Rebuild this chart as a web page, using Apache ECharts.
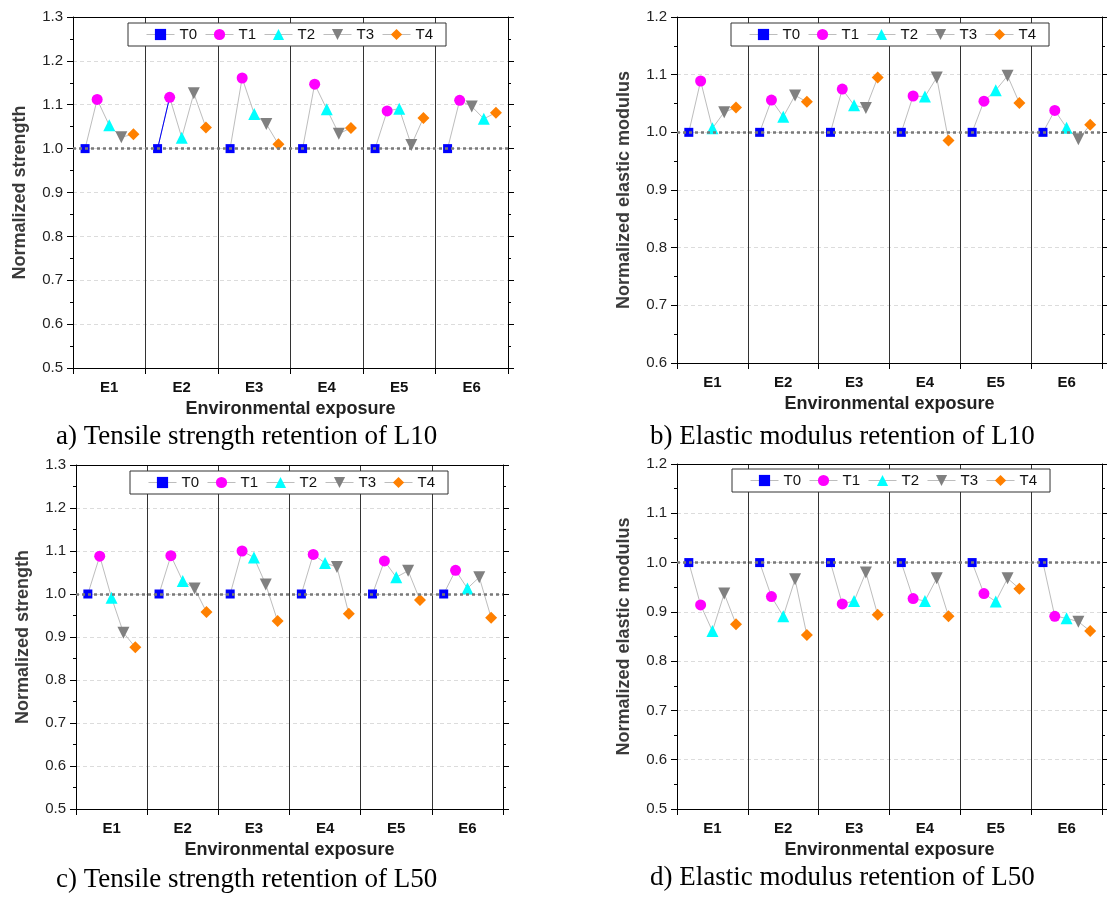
<!DOCTYPE html>
<html>
<head>
<meta charset="utf-8">
<script src="https://cdn.jsdelivr.net/npm/echarts@6/dist/echarts.min.js"></script>
<style>
  html, body { margin: 0; background: #fff; }
  #chart { width: 1107px; height: 897px; }
</style>
</head>
<body>
<div id="chart"></div>
<script>
// categories
const groups = ['E1', 'E2', 'E3', 'E4', 'E5', 'E6'];
const treatments = ['T0', 'T1', 'T2', 'T3', 'T4'];

// values, rows T0..T4, columns E1..E6
const strengthL10 = [
  [1, 1, 1, 1, 1, 1],
  [1.112, 1.117, 1.161, 1.147, 1.086, 1.110],
  [1.053, 1.025, 1.079, 1.090, 1.091, 1.068],
  [1.026, 1.126, 1.056, 1.034, 1.008, 1.096],
  [1.033, 1.048, 1.010, 1.047, 1.070, 1.082]
];
const modulusL10 = [
  [1, 1, 1, 1, 1, 1],
  [1.089, 1.056, 1.075, 1.063, 1.054, 1.038],
  [1.007, 1.027, 1.047, 1.062, 1.073, 1.008],
  [1.035, 1.064, 1.042, 1.095, 1.098, 0.988],
  [1.043, 1.053, 1.095, 0.986, 1.051, 1.013]
];
const strengthL50 = [
  [1, 1, 1, 1, 1, 1],
  [1.088, 1.089, 1.100, 1.092, 1.077, 1.055],
  [0.991, 1.030, 1.085, 1.072, 1.039, 1.013],
  [0.910, 1.013, 1.022, 1.063, 1.054, 1.039],
  [0.876, 0.958, 0.937, 0.954, 0.986, 0.945]
];
const modulusL50 = [
  [1, 1, 1, 1, 1, 1],
  [0.914, 0.931, 0.916, 0.927, 0.937, 0.891],
  [0.861, 0.891, 0.922, 0.922, 0.921, 0.887],
  [0.937, 0.966, 0.980, 0.968, 0.968, 0.880],
  [0.875, 0.853, 0.894, 0.891, 0.947, 0.861]
];

// slot of T0..T4 inside each exposure group (in a) the E6 T2/T3 points are swapped)
const slotsNormal = [1, 2, 3, 4, 5];
const slotsStrengthL10 = [slotsNormal, slotsNormal, slotsNormal, slotsNormal, slotsNormal, [1, 2, 4, 3, 5]];

const FONT = '"Liberation Sans", Arial, sans-serif';
const colors = ['#0000ff', '#ff00ff', '#00ffff', '#808080', '#ff8000'];
const symbols = ['rect', 'circle', 'triangle', 'path://M0,0 L10,0 L5,9 Z', 'diamond'];
const sizes = [9, 11, 12, 12, 12];

const panels = [
  {
    data: strengthL10, slots: slotsStrengthL10, yMin: 0.5, yMax: 1.3, yName: 'Normalized strength',
    grid: { left: 73, top: 17, width: 435, height: 351 },
    legend: { left: 128, top: 23 },
    caption: { text: 'a) Tensile strength retention of L10', x: 56, y: 423 },
    blue: { group: 1 }
  },
  {
    data: modulusL10, yMin: 0.6, yMax: 1.2, yName: 'Normalized elastic modulus',
    grid: { left: 677, top: 17, width: 425, height: 346 },
    legend: { left: 731, top: 23 },
    caption: { text: 'b) Elastic modulus retention of L10', x: 650, y: 423 }
  },
  {
    data: strengthL50, yMin: 0.5, yMax: 1.3, yName: 'Normalized strength',
    grid: { left: 76, top: 465, width: 427, height: 344 },
    legend: { left: 130, top: 471 },
    caption: { text: 'c) Tensile strength retention of L50', x: 56, y: 866 }
  },
  {
    data: modulusL50, yMin: 0.5, yMax: 1.2, yName: 'Normalized elastic modulus',
    grid: { left: 677, top: 464, width: 425, height: 345 },
    legend: { left: 732, top: 469 },
    caption: { text: 'd) Elastic modulus retention of L50', x: 650, y: 864 }
  }
];

const option = {
  animation: false,
  backgroundColor: '#fff',
  grid: [], xAxis: [], yAxis: [], legend: [], series: [], graphic: []
};

panels.forEach(function (p, i) {
  const slots = p.slots || groups.map(function () { return slotsNormal; });
  const xPos = function (gi, ti) { return gi * 6 + slots[gi][ti]; };

  option.grid.push(p.grid);

  // data axis, drawn only as the top frame
  option.xAxis.push({
    type: 'value', gridIndex: i, min: 0, max: 36, position: 'top',
    axisLine: { show: true, lineStyle: { color: '#000', width: 1 } },
    axisTick: { show: false }, axisLabel: { show: false }, splitLine: { show: false }
  });
  // exposure groups
  option.xAxis.push({
    type: 'category', gridIndex: i, data: groups, position: 'bottom', boundaryGap: true,
    axisLine: { lineStyle: { color: '#000', width: 1 } },
    axisTick: { show: true, length: 6, lineStyle: { color: '#000' } },
    splitLine: { show: true, lineStyle: { color: '#333', width: 1 } },
    axisLabel: { interval: 0, margin: 12, fontSize: 15, fontWeight: 'bold', color: '#111', fontFamily: FONT },
    name: 'Environmental exposure', nameLocation: 'middle', nameGap: 32,
    nameTextStyle: { fontSize: 18, fontWeight: 'bold', color: '#222', fontFamily: FONT }
  });

  option.yAxis.push({
    type: 'value', gridIndex: i, min: p.yMin, max: p.yMax, interval: 0.1, position: 'left',
    axisLine: { show: true, lineStyle: { color: '#000', width: 1 } },
    axisTick: { show: true, length: 6, lineStyle: { color: '#000' } },
    minorTick: { show: true, splitNumber: 2, length: 3, lineStyle: { color: '#000' } },
    splitLine: { show: true, lineStyle: { color: '#dcdcdc', type: [4, 3], width: 1 } },
    axisLabel: { margin: 10, fontSize: 15, color: '#222', fontFamily: FONT,
      formatter: function (v) { return v.toFixed(1); } },
    name: p.yName, nameLocation: 'middle', nameGap: 44,
    nameTextStyle: { fontSize: 18, fontWeight: 'bold', color: '#3a3a3a', fontFamily: FONT }
  });
  option.yAxis.push({
    type: 'value', gridIndex: i, min: p.yMin, max: p.yMax, interval: 0.1, position: 'right',
    axisLine: { show: true, lineStyle: { color: '#000', width: 1 } },
    axisTick: { show: true, length: 6, lineStyle: { color: '#000' } },
    minorTick: { show: true, splitNumber: 2, length: 3, lineStyle: { color: '#000' } },
    splitLine: { show: false }, axisLabel: { show: false }
  });

  // grey connectors inside each exposure group
  groups.forEach(function (g, gi) {
    const pts = treatments.map(function (t, ti) { return [xPos(gi, ti), p.data[ti][gi]]; })
      .sort(function (a, b) { return a[0] - b[0]; });
    option.series.push({
      type: 'line', name: g + '-link', xAxisIndex: 2 * i, yAxisIndex: 2 * i,
      data: pts, symbol: 'none', silent: true, z: 2,
      lineStyle: { color: '#bdbdbd', width: 1 }
    });
  });

  if (p.blue) {
    const gi = p.blue.group;
    option.series.push({
      type: 'line', name: 'blue-link', xAxisIndex: 2 * i, yAxisIndex: 2 * i,
      data: [[xPos(gi, 0), p.data[0][gi]], [xPos(gi, 1), p.data[1][gi]]],
      symbol: 'none', silent: true, z: 2,
      lineStyle: { color: '#0000ff', width: 1 }
    });
  }

  // reference line at 1.0
  option.series.push({
    type: 'line', name: 'ref', xAxisIndex: 2 * i, yAxisIndex: 2 * i, data: [], z: 6,
    markLine: {
      silent: true, symbol: 'none', label: { show: false },
      lineStyle: { type: [3, 3], color: '#7a7a7a', width: 2.5 },
      emphasis: { disabled: true },
      data: [{ yAxis: 1 }]
    }
  });

  treatments.forEach(function (t, ti) {
    option.series.push({
      type: 'line', name: t, xAxisIndex: 2 * i, yAxisIndex: 2 * i, z: 4,
      data: groups.map(function (g, gi) { return [xPos(gi, ti), p.data[ti][gi]]; }),
      symbol: symbols[ti], symbolSize: sizes[ti],
      itemStyle: { color: colors[ti], opacity: 1 },
      lineStyle: { opacity: 0 },
      emphasis: { disabled: true }
    });
  });

  option.legend.push({
    data: treatments, left: p.legend.left, top: p.legend.top, orient: 'horizontal',
    itemWidth: 28, itemHeight: 14, itemGap: 8, padding: [4, 13, 4, 18],
    borderColor: '#333', borderWidth: 1, backgroundColor: '#fff', selectedMode: false,
    textStyle: { fontSize: 15, color: '#111', fontFamily: FONT },
    lineStyle: { color: '#bdbdbd', width: 1, opacity: 1 }
  });

  option.graphic.push({
    type: 'text', left: p.caption.x, top: p.caption.y,
    style: { text: p.caption.text, font: '27px "Liberation Serif", "Times New Roman", serif', fill: '#000' }
  });
});

const chart = echarts.init(document.getElementById('chart'));
chart.setOption(option);
</script>
</body>
</html>
